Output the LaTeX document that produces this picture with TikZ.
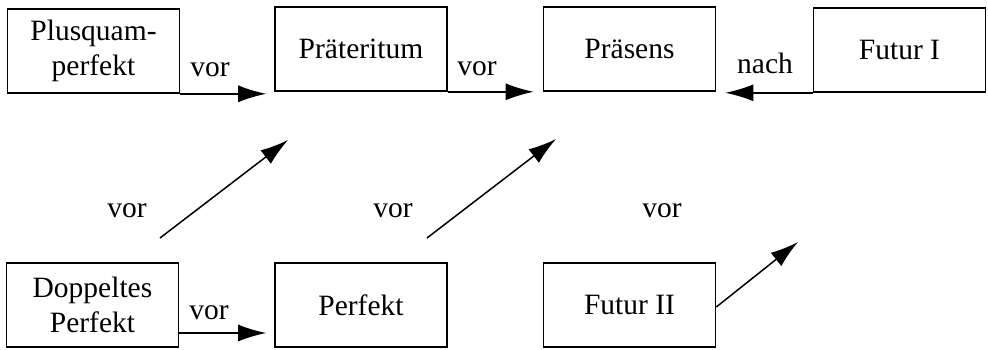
\documentclass[tikz,border=0pt]{standalone}
\usepackage{fontspec}
\setmainfont{Liberation Serif}
\usetikzlibrary{arrows.meta}
\begin{document}
\begin{tikzpicture}[x=1pt,y=-1pt,
  tense/.style={draw, line width=1.6pt, minimum width=172pt, minimum height=84pt,
    inner sep=0pt, align=center, font=\fontsize{29.5}{35}\selectfont},
  rel/.style={inner sep=0pt, font=\fontsize{29.5}{35}\selectfont},
  link/.style={line width=1.5pt, -{Latex[length=28pt,width=17pt]}}]
\useasboundingbox (0,0) rectangle (988,350);

% top row
\node[tense] (plusq) at (93.5,51) {Plusquam-\\perfekt};
\node[tense] (praet) at (361,49) {Präteritum};
\node[tense] (praes) at (629.5,49) {Präsens};
\node[tense] (fut1)  at (899.5,50) {Futur I};

% bottom row
\node[tense] (dopp) at (92.5,305) {Doppeltes\\Perfekt};
\node[tense] (perf) at (361,305) {Perfekt};
\node[tense] (fut2) at (629.5,305) {Futur II};

% horizontal relations
\draw[link] (plusq.south east) -- ([xshift=-8pt]praet.south west |- plusq.south east);
\draw[link] (praet.south east) -- ([xshift=-9pt]praes.south west |- praet.south east);
\draw[link] (fut1.south west) -- ([xshift=9pt]praes.south east |- fut1.south west);
\draw[link] (dopp.east |- 0,333) coordinate (d1) -- ([xshift=-8pt]perf.west |- d1);

% diagonal relations
\coordinate (g1s) at (160,238);
\coordinate (g1e) at (288,140);
\coordinate (g2s) at (427,238);
\coordinate (g2e) at (556,139);
\coordinate (g3e) at (798,242);
\draw[link] (g1s) -- (g1e);
\draw[link] (g2s) -- (g2e);
\draw[link] ([yshift=-2pt]fut2.east) -- (g3e);

% labels
\node[rel] (l1) at (210,70) {vor};
\node[rel] (l2) at (477,69) {vor};
\node[rel] (l3) at (765,63) {nach};
\node[rel] (l4) at (209,313) {vor};
\node[rel] (l5) at (127,211) {vor};
\node[rel] (l6) at (393,211) {vor};
\node[rel] (l7) at (662,211) {vor};
\end{tikzpicture}
\end{document}
